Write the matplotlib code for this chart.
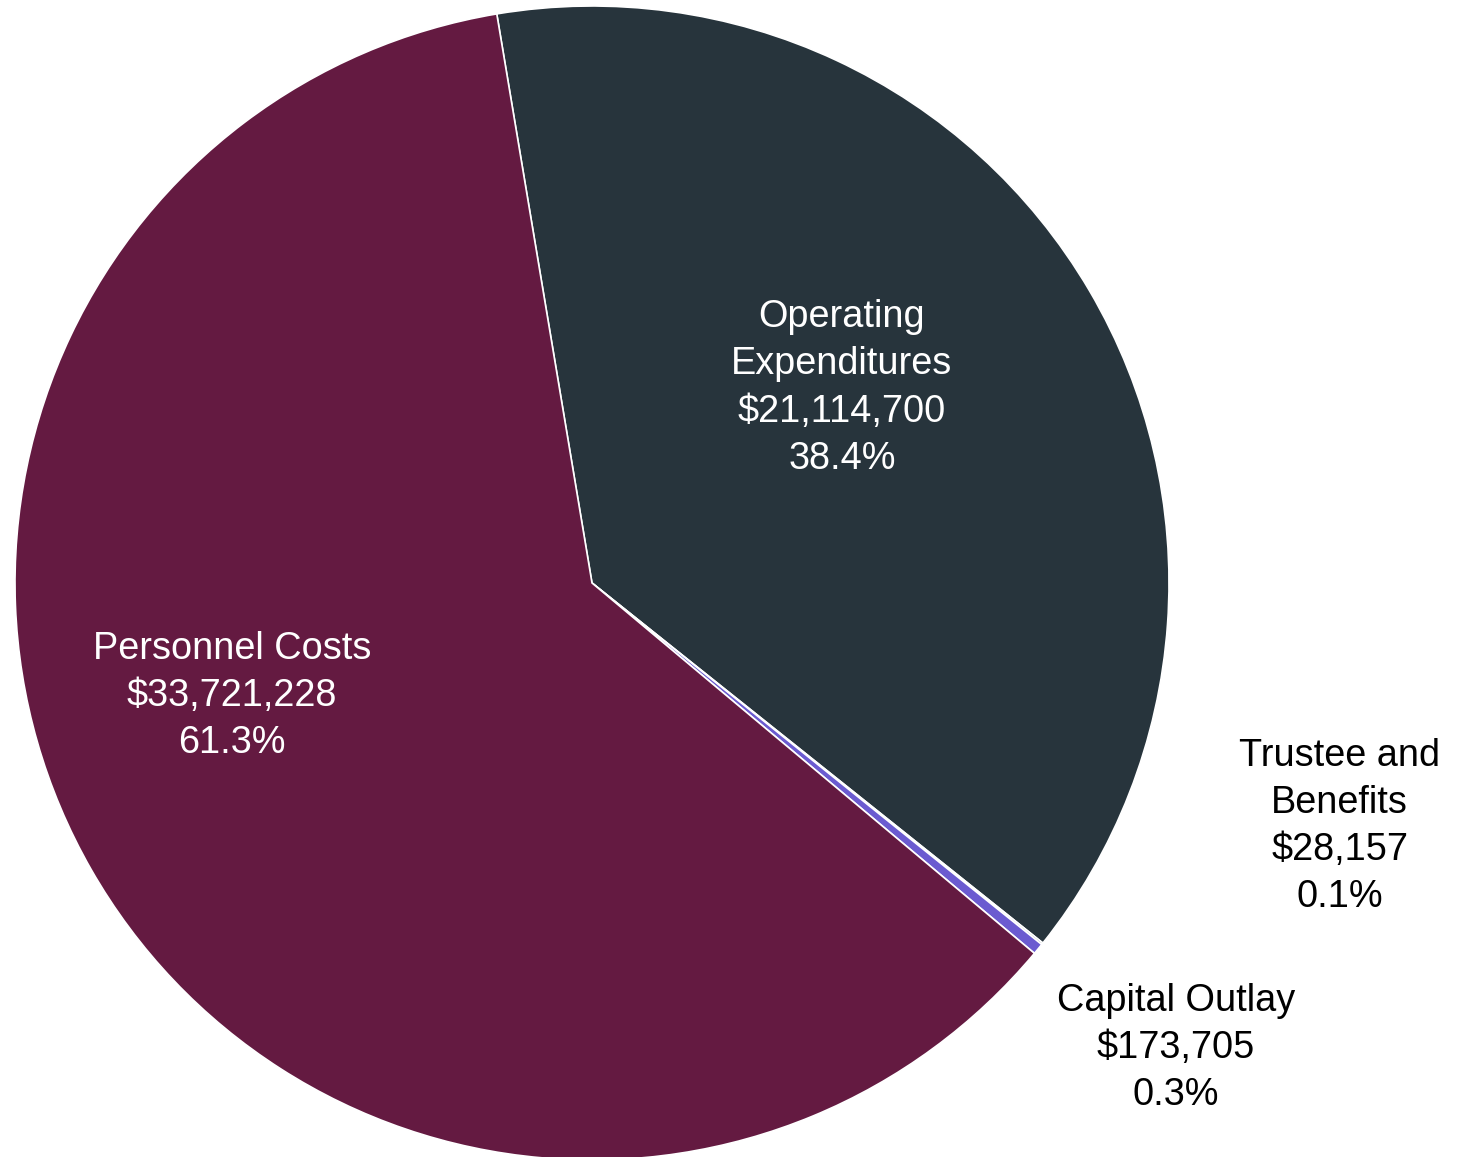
import matplotlib
matplotlib.use("Agg")
import matplotlib.pyplot as plt

categories = ["Operating\nExpenditures", "Trustee and\nBenefits", "Capital Outlay", "Personnel Costs"]
values = [21114700, 28157, 173705, 33721228]
colors = ["#27343C", "#27343C", "#6B5BD0", "#641A41"]
text_colors = ["white", "black", "black", "white"]
label_pos = [(0.433, 0.338), (1.296, -0.422), (1.012, -0.806), (-0.624, -0.196)]

plt.rcParams['font.family'] = ['Liberation Sans', 'DejaVu Sans']

fig = plt.figure(figsize=(14.58, 11.57), dpi=100)
cx, cy, r = 592, 583, 577
W, H = 1458, 1157
ax = fig.add_axes([(cx - r) / W, (H - cy - r) / H, 2 * r / W, 2 * r / H])
ax.pie(values, colors=colors, startangle=99.5, counterclock=False,
       wedgeprops=dict(edgecolor="white", linewidth=1.2), radius=1)
ax.set_xlim(-1, 1)
ax.set_ylim(-1, 1)
ax.set_aspect("equal")
ax.axis("off")

total = sum(values)
for cat, v, (x, y), tc in zip(categories, values, label_pos, text_colors):
    pct = v / total * 100
    ax.text(x, y, f"{cat}\n${v:,.0f}\n{pct:.1f}%", ha="center", va="center",
            fontsize=27.3, color=tc, linespacing=1.4, clip_on=False)

fig.savefig("out.png", dpi=100)
